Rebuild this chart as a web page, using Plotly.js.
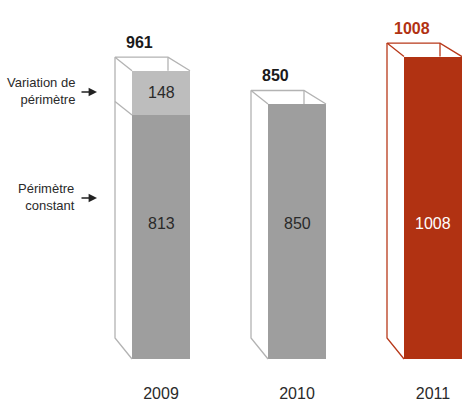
<!DOCTYPE html>
<html>
<head>
<meta charset="utf-8">
<script src="https://cdn.plot.ly/plotly-3.0.1.min.js"></script>
<style>html,body{margin:0;padding:0;background:#fff;}#chart{width:462px;height:403px;}</style>
</head>
<body>
<div id="chart"></div>
<script>
// ---- data ----
const years = ['2009', '2010', '2011'];
const constantScope = [813, 850, 1008];
const scopeChange = [148, 0, 0];
const seriesNames = ['Périmètre constant', 'Variation de périmètre'];
const sideLabels = ['Variation de<br>périmètre', 'Périmètre<br>constant'];

// ---- styling / geometry ----
const FONT = 'Liberation Sans, Arial, Helvetica, sans-serif';
const frontColors = ['#9e9e9e', '#9e9e9e', '#b13212'];
const edgeColors = ['#b3b3b3', '#b3b3b3', '#b8391a'];
const totalColors = ['#1a1a1a', '#1a1a1a', '#b13212'];
const innerColors = ['#2a2a2a', '#2a2a2a', '#ffffff'];
const LIGHT = '#bdbdbd';
const PX_X = 136;     // px per category step
const PX_Y = 0.3;     // px per value unit
const W = 462, H = 403, MB = 21;
const X0 = 161;       // px of first bar centre
const Y0 = 359;       // px of value 0
const BAR_W = 58 / PX_X;
const dxL = 17 / PX_X, dxR = 22 / PX_X;
const dyTop = 13.5 / PX_Y, dyBot = 21 / PX_Y;
const INNER_Y = (Y0 - 223) / PX_Y;

const xs = years.map((_, i) => i);
const totals = constantScope.map((v, i) => v + scopeChange[i]);

const traces = [
  {type: 'bar', x: xs, y: constantScope, name: seriesNames[0], width: BAR_W,
   marker: {color: frontColors, line: {width: 0}}, hoverinfo: 'skip'},
  {type: 'bar', x: xs, y: scopeChange, name: seriesNames[1], width: BAR_W,
   marker: {color: LIGHT, line: {width: 0}}, hoverinfo: 'skip'}
];

// wireframe (depth) of each box
xs.forEach((c, i) => {
  const h = BAR_W / 2, T = totals[i];
  const lx = [c - h, c - h - dxL, c + h - dxR, c + h, null,
              c + h - dxR, c + h - dxR, null,
              c - h - dxL, c - h - dxL, c - h, null];
  const ly = [T, T + dyTop, T + dyTop, T, null,
              T + dyTop, T, null,
              T + dyTop, dyBot, 0, null];
  if (scopeChange[i] > 0) {
    const B = constantScope[i];
    lx.push(c - h - dxL, c - h, null);
    ly.push(B + dyTop, B, null);
  }
  traces.push({type: 'scatter', mode: 'lines', x: lx, y: ly, cliponaxis: false,
    line: {color: edgeColors[i], width: 1.3}, hoverinfo: 'skip', showlegend: false});
});

const annotations = [];
xs.forEach((c, i) => {
  annotations.push({x: c - 0.155, y: totals[i] + dyTop, xref: 'x', yref: 'y',
    text: '<b>' + totals[i] + '</b>', showarrow: false, yanchor: 'middle', yshift: 15,
    font: {family: FONT, size: 16, color: totalColors[i]}});
  annotations.push({x: c, y: INNER_Y, xref: 'x', yref: 'y', text: String(constantScope[i]),
    showarrow: false, font: {family: FONT, size: 16, color: innerColors[i]}});
  if (scopeChange[i] > 0) {
    annotations.push({x: c, y: constantScope[i] + scopeChange[i] / 2, xref: 'x', yref: 'y',
      text: String(scopeChange[i]), showarrow: false,
      font: {family: FONT, size: 16, color: innerColors[i]}});
  }
});

const plotH = H - MB;
const px = v => v / W;
const py = v => 1 - v / plotH;
[[91, sideLabels[0]], [197, sideLabels[1]]].forEach(([yy, txt]) => {
  annotations.push({xref: 'paper', yref: 'paper', x: px(77), y: py(yy), text: txt,
    xanchor: 'right', yanchor: 'middle', align: 'right', showarrow: false,
    font: {family: FONT, size: 13, color: '#2a2a2a'}});
  annotations.push({xref: 'paper', yref: 'paper', x: px(97), y: py(yy + 1), text: '',
    showarrow: true, ax: -17, ay: 0, arrowhead: 2, arrowsize: 1.2, arrowwidth: 1.4,
    arrowcolor: '#222', standoff: 0});
});

const layout = {
  width: W, height: H,
  margin: {l: 0, r: 0, t: 0, b: MB, pad: 0},
  paper_bgcolor: '#fff', plot_bgcolor: '#fff',
  barmode: 'stack', showlegend: false,
  xaxis: {range: [-X0 / PX_X, (W - X0) / PX_X], tickmode: 'array', tickvals: xs, ticktext: years,
    showgrid: false, zeroline: false, showline: false, ticks: '', fixedrange: true,
    tickfont: {family: FONT, size: 16, color: '#2a2a2a'}},
  yaxis: {range: [(Y0 - plotH) / PX_Y, Y0 / PX_Y], visible: false, fixedrange: true},
  annotations: annotations
};

Plotly.newPlot('chart', traces, layout, {displayModeBar: false, staticPlot: true});
</script>
</body>
</html>
